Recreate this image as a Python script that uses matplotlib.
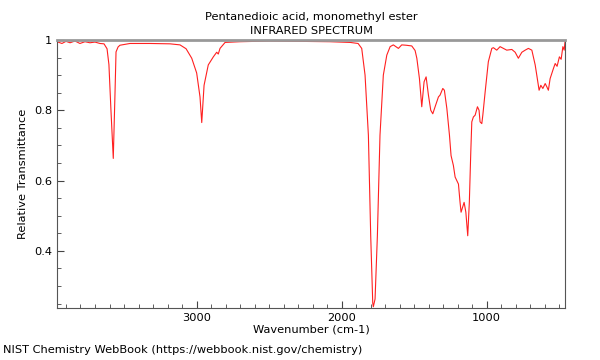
import matplotlib
matplotlib.use('Agg')
import matplotlib.pyplot as plt
from matplotlib.ticker import MultipleLocator, FuncFormatter

title = 'Pentanedioic acid, monomethyl ester\nINFRARED SPECTRUM'
footer = 'NIST Chemistry WebBook (https://webbook.nist.gov/chemistry)'

# wavenumber (cm-1) and transmittance
wavenumber = [3962, 3928, 3900, 3872, 3838, 3804, 3769, 3735, 3700, 3666,
              3638, 3617, 3604, 3590, 3574, 3562, 3555, 3541, 3528, 3459,
              3321, 3183, 3114, 3072, 3033, 2999, 2976, 2964, 2948, 2919,
              2884, 2861, 2850, 2838, 2803, 2700, 2493, 2286, 2079, 1941,
              1886, 1861, 1838, 1815, 1799, 1785, 1781, 1769, 1753, 1735,
              1712, 1688, 1665, 1643, 1608, 1585, 1555, 1516, 1493, 1481,
              1463, 1447, 1431, 1417, 1401, 1385, 1371, 1355, 1332, 1321,
              1302, 1291, 1274, 1256, 1245, 1229, 1217, 1194, 1183, 1176,
              1155, 1143, 1130, 1119, 1109, 1102, 1091, 1079, 1063, 1052,
              1045, 1033, 1026, 1010, 988, 964, 953, 930, 907, 884,
              861, 826, 803, 781, 757, 734, 712, 688, 665, 654,
              638, 626, 612, 596, 585, 574, 562, 539, 527, 514,
              498, 486, 474, 465, 458]
transmittance = [0.995, 0.990, 0.996, 0.992, 0.997, 0.990, 0.995, 0.992, 0.994, 0.990,
                 0.989, 0.975, 0.930, 0.800, 0.663, 0.850, 0.966, 0.980, 0.985, 0.990,
                 0.990, 0.989, 0.986, 0.975, 0.948, 0.906, 0.838, 0.765, 0.871, 0.929,
                 0.952, 0.965, 0.960, 0.976, 0.993, 0.995, 0.997, 0.996, 0.995, 0.993,
                 0.990, 0.976, 0.900, 0.729, 0.443, 0.252, 0.241, 0.263, 0.443, 0.729,
                 0.900, 0.957, 0.981, 0.986, 0.976, 0.986, 0.985, 0.983, 0.970, 0.948,
                 0.890, 0.810, 0.881, 0.895, 0.843, 0.800, 0.790, 0.810, 0.838, 0.843,
                 0.862, 0.857, 0.805, 0.729, 0.671, 0.643, 0.610, 0.590, 0.538, 0.510,
                 0.538, 0.510, 0.443, 0.538, 0.681, 0.767, 0.781, 0.786, 0.810, 0.800,
                 0.767, 0.762, 0.786, 0.852, 0.938, 0.976, 0.978, 0.971, 0.981, 0.976,
                 0.971, 0.973, 0.965, 0.948, 0.965, 0.971, 0.976, 0.971, 0.929, 0.900,
                 0.857, 0.871, 0.862, 0.876, 0.867, 0.857, 0.890, 0.919, 0.933, 0.925,
                 0.952, 0.945, 0.981, 0.971, 1.000]

fs = 8.2
fig = plt.figure(figsize=(6, 3.6), dpi=100)
ax = fig.add_axes([0.095, 0.144, 0.847, 0.745])
ax.plot(wavenumber, transmittance, color='#ff2020', lw=0.8)

ax.set_xlim(3962, 458)
ax.set_ylim(0.237, 1.0)
ax.xaxis.set_major_locator(MultipleLocator(1000))
ax.xaxis.set_minor_locator(MultipleLocator(100))
ax.yaxis.set_major_locator(MultipleLocator(0.2))
ax.yaxis.set_minor_locator(MultipleLocator(0.05))
ax.yaxis.set_major_formatter(FuncFormatter(lambda v, p: ('%g' % round(v, 2))))
ax.tick_params(which='both', direction='in', colors='#444444', labelcolor='black', labelsize=fs)
ax.tick_params(which='major', length=5)
ax.tick_params(which='minor', length=3)

for s in ['left', 'bottom', 'right']:
    ax.spines[s].set_color('#555555')
ax.spines['top'].set_color('#999999')
ax.spines['top'].set_linewidth(2)

ax.set_xlabel('Wavenumber (cm-1)', fontsize=fs, labelpad=1)
ax.set_ylabel('Relative Transmittance', fontsize=fs)
ax.set_title(title, fontsize=fs, linespacing=1.5, pad=4)
fig.text(0.005, 0.02, footer, fontsize=fs)

fig.savefig('out.png', dpi=100)
